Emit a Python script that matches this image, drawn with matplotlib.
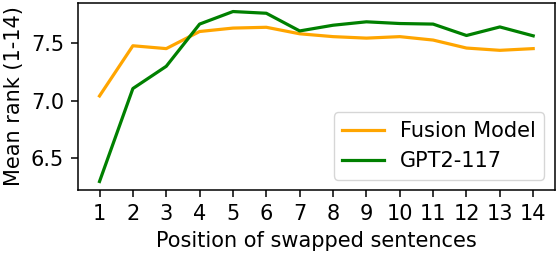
import matplotlib
matplotlib.use("Agg")
import matplotlib.pyplot as plt

positions = list(range(1, 15))
fusion = [7.04, 7.48, 7.455, 7.605, 7.635, 7.642, 7.585, 7.56, 7.547, 7.56, 7.53, 7.46, 7.44, 7.455]
gpt2 = [6.29, 7.105, 7.30, 7.67, 7.78, 7.765, 7.61, 7.66, 7.69, 7.675, 7.67, 7.57, 7.645, 7.567]

plt.rcParams['font.size'] = 15
plt.rcParams['axes.linewidth'] = 1.1
plt.rcParams['xtick.major.size'] = 5
plt.rcParams['ytick.major.size'] = 5
plt.rcParams['xtick.major.width'] = 1.1
plt.rcParams['ytick.major.width'] = 1.1
plt.rcParams['xtick.major.pad'] = 5
plt.rcParams['ytick.major.pad'] = 5
plt.rcParams['axes.labelpad'] = 5
fig = plt.figure(figsize=(5.56, 2.54), dpi=100)
ax = fig.add_axes([0.140, 0.252, 0.858, 0.736])
ax.plot(positions, fusion, color='orange', lw=2.3, label='Fusion Model')
ax.plot(positions, gpt2, color='green', lw=2.3, label='GPT2-117')
ax.set_xticks(positions)
ax.set_yticks([6.5, 7.0, 7.5])
ax.set_xlabel('Position of swapped sentences')
ax.set_ylabel('Mean rank (1-14)')
ax.legend(loc='lower right')
fig.savefig('out.png', dpi=100)
